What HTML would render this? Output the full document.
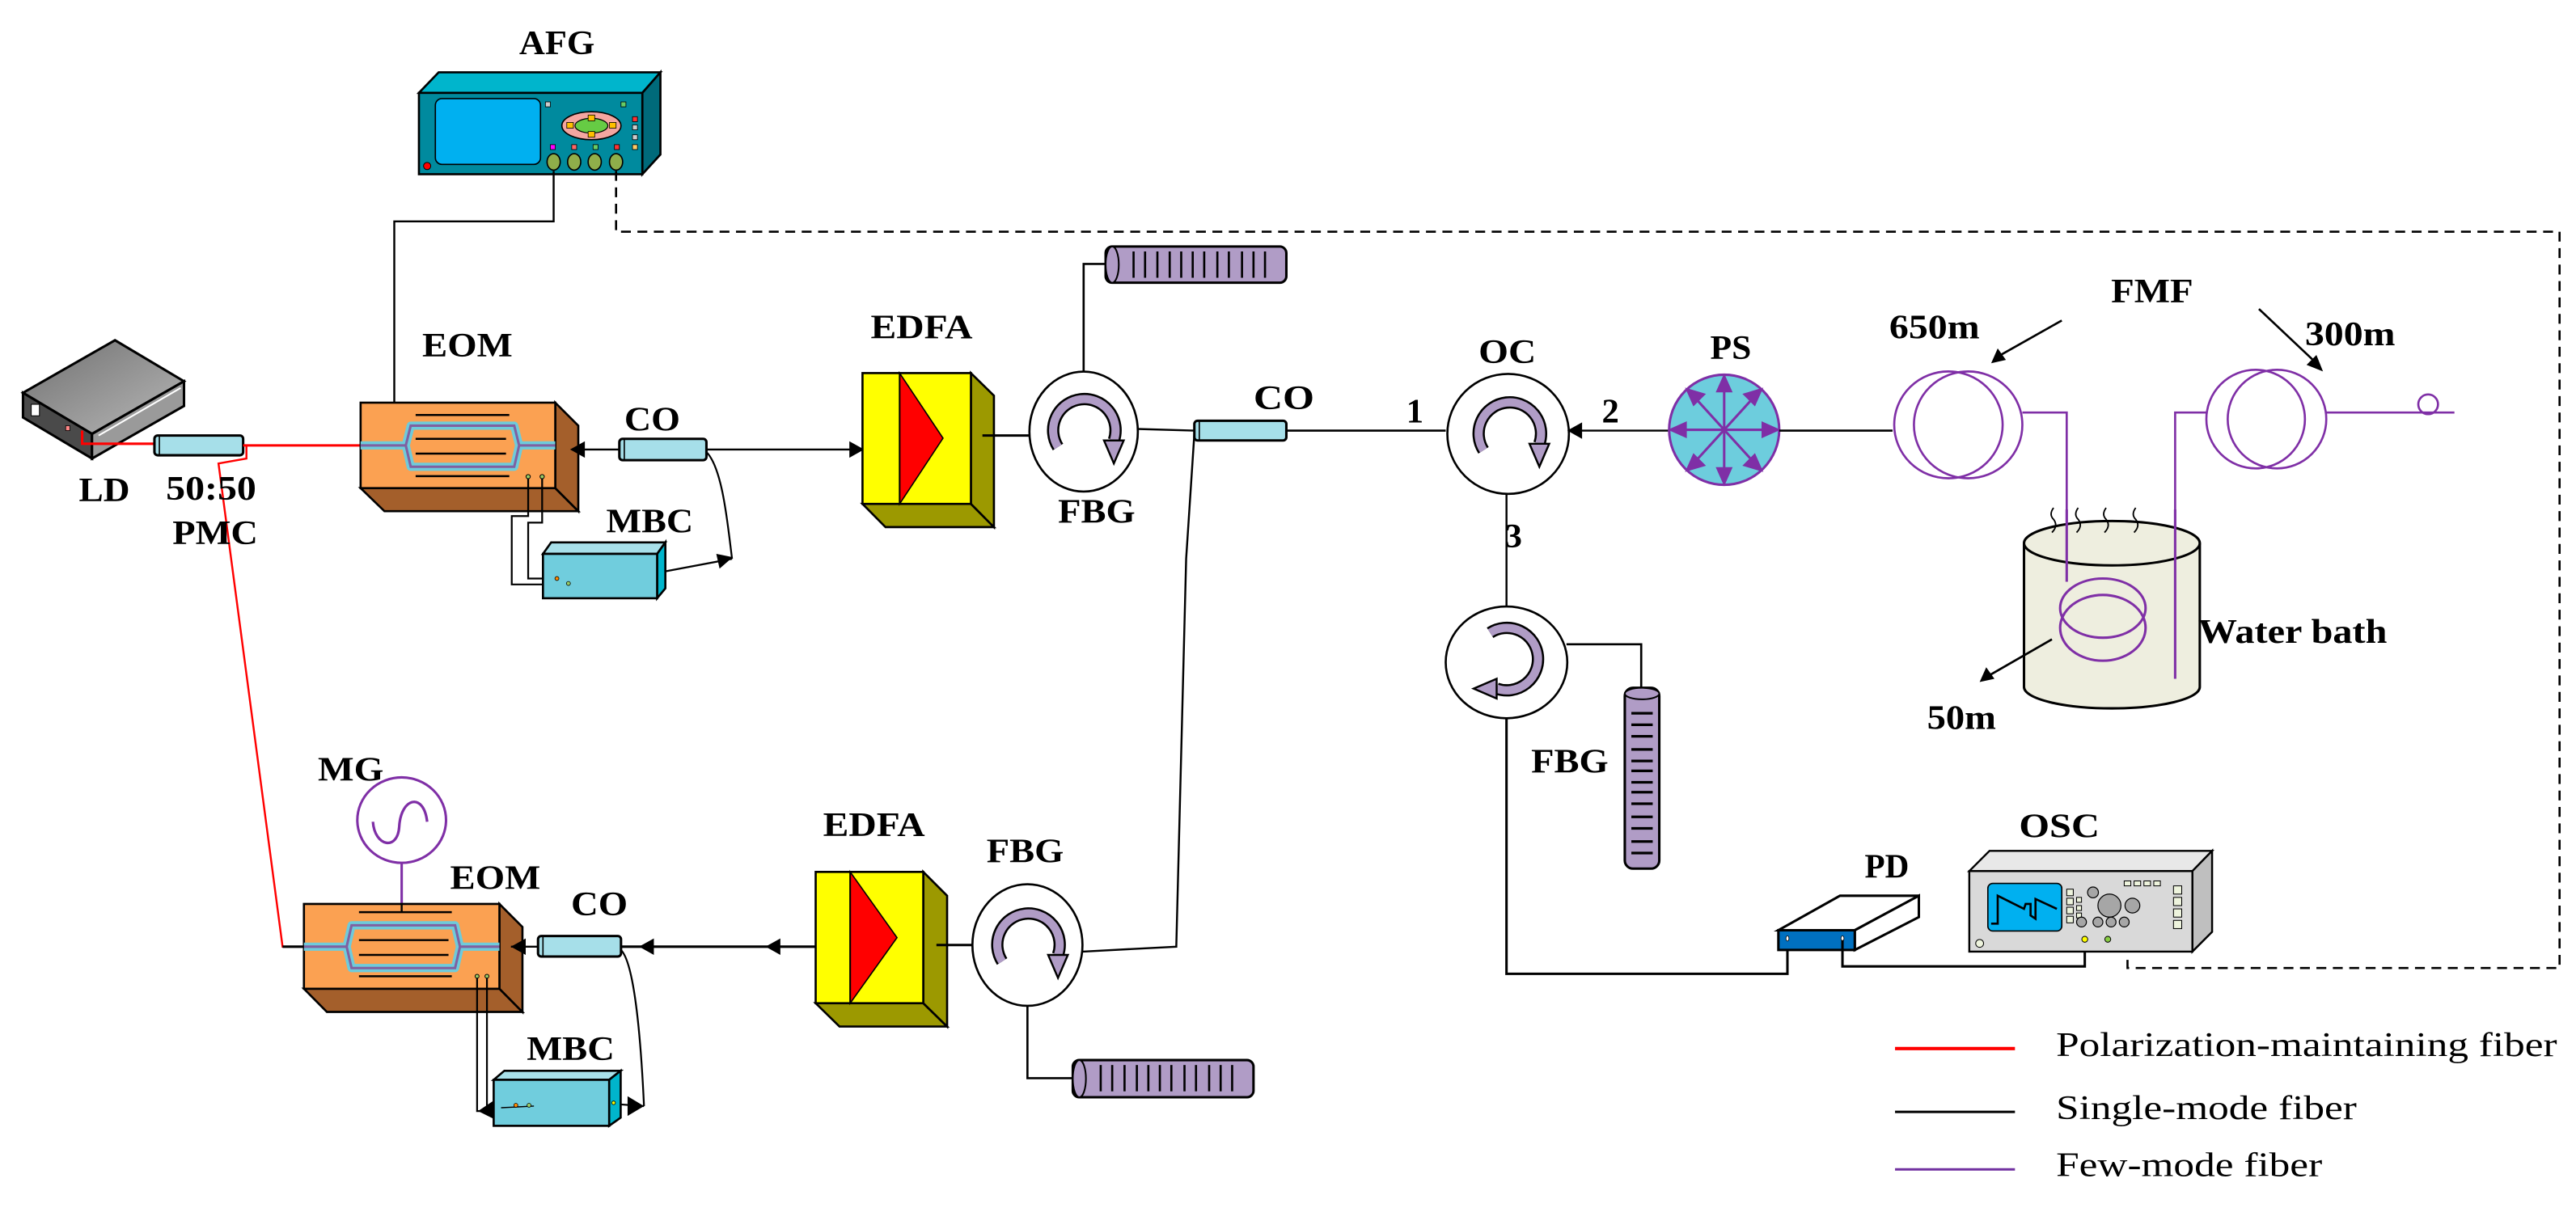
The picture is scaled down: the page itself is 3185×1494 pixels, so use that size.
<!DOCTYPE html>
<html><head><meta charset="utf-8"><style>
html,body{margin:0;padding:0;background:#fff;}
svg{display:block;}
.lb{font-family:"Liberation Serif",serif;font-weight:bold;font-size:21px;fill:#000;}
.lg{font-family:"Liberation Serif",serif;font-size:21px;fill:#000;}
</style></head><body>
<svg width="3185" height="1494" viewBox="0 0 1568 735" preserveAspectRatio="none" xmlns="http://www.w3.org/2000/svg">
<defs>
<linearGradient id="ldg" x1="0" y1="0" x2="1" y2="1"><stop offset="0" stop-color="#707070"/><stop offset="1" stop-color="#b8b8b8"/></linearGradient>
<g id="circarc">
 <path d="M-15,10 A19 19 0 1 1 19,6" fill="none" stroke="#000" stroke-width="7.5"/>
 <path d="M-15,10 A19 19 0 1 1 19,6" fill="none" stroke="#b09cc6" stroke-width="5"/>
 <polygon points="13,6 25,6 19,20" fill="#b09cc6" stroke="#000" stroke-width="1.2"/>
</g>
</defs>

<!-- ========== AFG ========== -->
<text class="lb" x="316" y="33" textLength="46" lengthAdjust="spacingAndGlyphs">AFG</text>
<polygon points="255,56.5 267,44 402,44 391,56.5" fill="#00b5cc" stroke="#000" stroke-width="1.3"/>
<polygon points="391,56.5 402,44 402,94 391,106" fill="#006a7a" stroke="#000" stroke-width="1.3"/>
<rect x="255" y="56.5" width="136" height="49.5" fill="#008a9e" stroke="#000" stroke-width="1.3"/>
<rect x="265" y="60" width="64" height="40" rx="4" fill="#00b0f0" stroke="#000" stroke-width="0.8"/>
<ellipse cx="360" cy="76.5" rx="18" ry="8.5" fill="#f4a6a0" stroke="#000" stroke-width="0.8"/>
<ellipse cx="360" cy="76.5" rx="10" ry="4.5" fill="#66cc44" stroke="#000" stroke-width="0.6"/>
<rect x="358" y="70" width="4" height="3.5" fill="#ffc000" stroke="#000" stroke-width="0.4"/>
<rect x="358" y="80" width="4" height="3.5" fill="#ffc000" stroke="#000" stroke-width="0.4"/>
<rect x="345" y="74.5" width="4" height="3.5" fill="#ffc000" stroke="#000" stroke-width="0.4"/>
<rect x="371" y="74.5" width="4" height="3.5" fill="#ffc000" stroke="#000" stroke-width="0.4"/>
<rect x="332" y="62" width="3" height="3" fill="#ccc" stroke="#000" stroke-width="0.4"/>
<rect x="378" y="62" width="3" height="3" fill="#6c6" stroke="#000" stroke-width="0.4"/>
<rect x="385" y="71" width="3" height="3" fill="#f33" stroke="#000" stroke-width="0.4"/>
<rect x="385" y="76" width="3" height="3" fill="#ccc" stroke="#000" stroke-width="0.4"/>
<rect x="385" y="82" width="3" height="3" fill="#ccc" stroke="#000" stroke-width="0.4"/>
<rect x="335" y="88" width="3" height="3" fill="#f0f" stroke="#000" stroke-width="0.4"/>
<rect x="348" y="88" width="3" height="3" fill="#f66" stroke="#000" stroke-width="0.4"/>
<rect x="361" y="88" width="3" height="3" fill="#6c6" stroke="#000" stroke-width="0.4"/>
<rect x="374" y="88" width="3" height="3" fill="#f33" stroke="#000" stroke-width="0.4"/>
<rect x="385" y="88" width="3" height="3" fill="#fc6" stroke="#000" stroke-width="0.4"/>
<ellipse cx="337" cy="98.5" rx="4" ry="5" fill="#8fae4a" stroke="#000" stroke-width="0.8"/>
<ellipse cx="349.5" cy="98.5" rx="4" ry="5" fill="#8fae4a" stroke="#000" stroke-width="0.8"/>
<ellipse cx="362" cy="98.5" rx="4" ry="5" fill="#8fae4a" stroke="#000" stroke-width="0.8"/>
<ellipse cx="375" cy="98.5" rx="4" ry="5" fill="#8fae4a" stroke="#000" stroke-width="0.8"/>
<circle cx="260" cy="101" r="2.2" fill="#f00" stroke="#000" stroke-width="0.5"/>
<polyline points="337,104 337,134.7 240,134.7 240,245" fill="none" stroke="#000" stroke-width="1.2"/>
<polyline points="375,104 375,141 1558,141 1558,589 1295,589 1295,580" fill="none" stroke="#000" stroke-width="1.3" stroke-dasharray="6 4"/>

<!-- ========== LD / coupler ========== -->
<polygon points="14,239 70,207 112,232 56,264" fill="url(#ldg)" stroke="#000" stroke-width="1.5"/>
<polygon points="14,239 56,264 56,279 14,254" fill="#4a4a4a" stroke="#000" stroke-width="1.5"/>
<polygon points="56,264 112,232 112,247 56,279" fill="#9a9a9a" stroke="#000" stroke-width="1.5"/>
<line x1="60" y1="265" x2="110" y2="236" stroke="#fff" stroke-width="1"/>
<rect x="19" y="246" width="5" height="7" fill="#fff" stroke="#000" stroke-width="0.5"/>
<rect x="40" y="259" width="2.5" height="3" fill="#f88" stroke="#000" stroke-width="0.4"/>
<path d="M50,262 L50,270 L94,270" fill="none" stroke="#f00" stroke-width="1.5"/>
<rect x="94" y="265" width="54" height="12" rx="2" fill="#a6dfe9" stroke="#000" stroke-width="1.5"/>
<line x1="97" y1="265" x2="97" y2="277" stroke="#000" stroke-width="0.8"/>
<line x1="148" y1="271" x2="220" y2="271" stroke="#f00" stroke-width="1.5"/>
<path d="M150,271 L150,279 L133,282 L172,576 L184,576" fill="none" stroke="#f00" stroke-width="1.2"/>
<text class="lb" x="48" y="305" textLength="31" lengthAdjust="spacingAndGlyphs">LD</text>
<text class="lb" x="101" y="304" textLength="55" lengthAdjust="spacingAndGlyphs">50:50</text>
<text class="lb" x="105" y="331" textLength="52" lengthAdjust="spacingAndGlyphs">PMC</text>

<!-- ========== EOM1 ========== -->
<text class="lb" x="257" y="217" textLength="55" lengthAdjust="spacingAndGlyphs">EOM</text>
<polygon points="219.5,297 338,297 352,311 234,311" fill="#a45f2b" stroke="#000" stroke-width="1.3"/>
<polygon points="338,245 352,259 352,311 338,297" fill="#a45f2b" stroke="#000" stroke-width="1.3"/>
<rect x="219.5" y="245" width="118.5" height="52" fill="#fba152" stroke="#000" stroke-width="1.3"/>
<line x1="253" y1="252.5" x2="310" y2="252.5" stroke="#000" stroke-width="1.2"/>
<line x1="253" y1="289.7" x2="310" y2="289.7" stroke="#000" stroke-width="1.2"/>
<path d="M219.5,271 L247,271 L250,259 L313,259 L316,271 L338,271 M247,271 L250,284 L313,284 L316,271" fill="none" stroke="#6ecbdb" stroke-width="5" stroke-linejoin="round"/>
<path d="M219.5,271 L247,271 L250,259 L313,259 L316,271 L338,271 M247,271 L250,284 L313,284 L316,271" fill="none" stroke="#8060a0" stroke-width="1.5"/>
<line x1="253" y1="267" x2="308" y2="267" stroke="#000" stroke-width="1.2"/>
<line x1="253" y1="276" x2="308" y2="276" stroke="#000" stroke-width="1.2"/>
<circle cx="321.5" cy="290" r="1.3" fill="#9c6" stroke="#000" stroke-width="0.5"/>
<circle cx="330" cy="290" r="1.3" fill="#9c6" stroke="#000" stroke-width="0.5"/>
<polyline points="321.5,291 321.5,314 311.5,314 311.5,355.6 346.5,355.6" fill="none" stroke="#000" stroke-width="1.1"/>
<polyline points="330,291 330,318 321.5,318 321.5,352 339,352" fill="none" stroke="#000" stroke-width="1.1"/>
<!-- CO1 -->
<text class="lb" x="380" y="262" textLength="34" lengthAdjust="spacingAndGlyphs">CO</text>
<line x1="348" y1="273.5" x2="377" y2="273.5" stroke="#000" stroke-width="1.2"/>
<polygon points="347,273.5 356,268.5 356,278.5" fill="#000"/>
<rect x="377" y="267" width="53" height="13" rx="2" fill="#a6dfe9" stroke="#000" stroke-width="1.5"/>
<line x1="380" y1="267" x2="380" y2="280" stroke="#000" stroke-width="0.8"/>
<line x1="430" y1="273.5" x2="525" y2="273.5" stroke="#000" stroke-width="1.2"/>
<polygon points="526,273.5 517,268.5 517,278.5" fill="#000"/>
<path d="M430,275 C440,285 443,320 445.6,340" fill="none" stroke="#000" stroke-width="1.1"/>
<line x1="445.6" y1="340" x2="403" y2="348" stroke="#000" stroke-width="1.1"/>
<polygon points="446,339 436,337 438,346" fill="#000"/>
<!-- MBC1 -->
<text class="lb" x="369" y="324" textLength="53" lengthAdjust="spacingAndGlyphs">MBC</text>
<polygon points="330.5,337 335.5,330 405,330 400,337" fill="#a8e0ea" stroke="#000" stroke-width="1.3"/>
<polygon points="400,337 405,330 405,358 400,364" fill="#00b5cc" stroke="#000" stroke-width="1.3"/>
<rect x="330.5" y="337" width="69.5" height="27" fill="#70cddd" stroke="#000" stroke-width="1.3"/>
<circle cx="339" cy="352" r="1.2" fill="#f80" stroke="#000" stroke-width="0.4"/>
<circle cx="346" cy="355" r="1.2" fill="#9c6" stroke="#000" stroke-width="0.4"/>

<!-- ========== EDFA1 ========== -->
<text class="lb" x="530" y="206" textLength="62" lengthAdjust="spacingAndGlyphs">EDFA</text>
<polygon points="525,306.6 591,306.6 605,320.7 539,320.7" fill="#9c9900" stroke="#000" stroke-width="1.3"/>
<polygon points="591,227 605,240.7 605,320.7 591,306.6" fill="#9c9900" stroke="#000" stroke-width="1.3"/>
<rect x="525" y="227" width="66" height="79.6" fill="#ffff00" stroke="#000" stroke-width="1.3"/>
<polygon points="547.6,227 574,266.6 547.6,306.6" fill="#ff0000" stroke="#000" stroke-width="0.8"/>
<line x1="547.6" y1="227" x2="547.6" y2="306.6" stroke="#000" stroke-width="1"/>
<line x1="598" y1="265" x2="627" y2="265" stroke="#000" stroke-width="1.5"/>
<!-- circulator FBG1 -->
<ellipse cx="659.6" cy="262.6" rx="33" ry="36.5" fill="#fff" stroke="#000" stroke-width="1.3"/>
<use href="#circarc" transform="translate(659,262)"/>
<polyline points="659.6,226 659.6,160.6 673,160.6" fill="none" stroke="#000" stroke-width="1.3"/>
<rect x="673" y="150" width="110" height="22" rx="4" fill="#b09cc6" stroke="#000" stroke-width="1.5"/>
<ellipse cx="677" cy="161" rx="4" ry="11" fill="#b09cc6" stroke="#000" stroke-width="1"/>
<g stroke="#000" stroke-width="1.3">
<line x1="690" y1="153" x2="690" y2="169"/><line x1="697" y1="153" x2="697" y2="169"/><line x1="704.5" y1="153" x2="704.5" y2="169"/><line x1="712" y1="153" x2="712" y2="169"/><line x1="719" y1="153" x2="719" y2="169"/><line x1="726" y1="153" x2="726" y2="169"/><line x1="733" y1="153" x2="733" y2="169"/><line x1="741" y1="153" x2="741" y2="169"/><line x1="748" y1="153" x2="748" y2="169"/><line x1="756" y1="153" x2="756" y2="169"/><line x1="763" y1="153" x2="763" y2="169"/><line x1="770" y1="153" x2="770" y2="169"/>
</g>
<text class="lb" x="644" y="318" textLength="47" lengthAdjust="spacingAndGlyphs">FBG</text>
<!-- CO2 -->
<line x1="692" y1="261" x2="727" y2="262" stroke="#000" stroke-width="1.2"/>
<rect x="727" y="256" width="56" height="12" rx="2" fill="#a6dfe9" stroke="#000" stroke-width="1.5"/>
<line x1="730" y1="256" x2="730" y2="268" stroke="#000" stroke-width="0.8"/>
<text class="lb" x="763" y="249" textLength="37" lengthAdjust="spacingAndGlyphs">CO</text>
<line x1="783" y1="262" x2="880" y2="262" stroke="#000" stroke-width="1.3"/>
<polyline points="727,264 722,340 716,576 659,579" fill="none" stroke="#000" stroke-width="1.2"/>
<text class="lb" x="856" y="257" font-size="19">1</text>
<text class="lb" x="975" y="257" font-size="19">2</text>
<text class="lb" x="916" y="333" font-size="19">3</text>

<!-- ========== OC ========== -->
<text class="lb" x="900" y="221" textLength="35" lengthAdjust="spacingAndGlyphs">OC</text>
<ellipse cx="918" cy="264" rx="37" ry="36.5" fill="#fff" stroke="#000" stroke-width="1.3"/>
<use href="#circarc" transform="translate(918,264)"/>
<line x1="955" y1="262" x2="1016" y2="262" stroke="#000" stroke-width="1.2"/>
<polygon points="954,262 963,257 963,267" fill="#000"/>
<line x1="917" y1="300" x2="917" y2="369" stroke="#000" stroke-width="1.2"/>

<!-- ========== PS ========== -->
<text class="lb" x="1041" y="218.5" textLength="25" lengthAdjust="spacingAndGlyphs">PS</text>
<ellipse cx="1049.5" cy="261.5" rx="33.5" ry="33.5" fill="#6dcddd" stroke="#7f2fa6" stroke-width="1.5"/>
<g stroke="#7f2fa6" stroke-width="1.5" fill="#7f2fa6">
<line x1="1049.5" y1="261.5" x2="1049.5" y2="231"/><polygon points="1049.5,229 1045.5,238 1053.5,238"/>
<line x1="1049.5" y1="261.5" x2="1049.5" y2="292"/><polygon points="1049.5,294 1045.5,285 1053.5,285"/>
<line x1="1049.5" y1="261.5" x2="1019" y2="261.5"/><polygon points="1017,261.5 1026,257.5 1026,265.5"/>
<line x1="1049.5" y1="261.5" x2="1080" y2="261.5"/><polygon points="1082,261.5 1073,257.5 1073,265.5"/>
<line x1="1049.5" y1="261.5" x2="1070" y2="239"/><polygon points="1072,237 1062,240 1068,246"/>
<line x1="1049.5" y1="261.5" x2="1029" y2="239"/><polygon points="1027,237 1031,246 1037,240"/>
<line x1="1049.5" y1="261.5" x2="1070" y2="284"/><polygon points="1072,286 1068,277 1062,283"/>
<line x1="1049.5" y1="261.5" x2="1029" y2="284"/><polygon points="1027,286 1037,283 1031,277"/>
</g>
<line x1="1083" y1="262" x2="1152" y2="262" stroke="#000" stroke-width="1.3"/>

<!-- ========== FMF coils ========== -->
<text class="lb" x="1285" y="184" textLength="50" lengthAdjust="spacingAndGlyphs">FMF</text>
<text class="lb" x="1150" y="206" textLength="55" lengthAdjust="spacingAndGlyphs">650m</text>
<text class="lb" x="1403" y="210" textLength="55" lengthAdjust="spacingAndGlyphs">300m</text>
<line x1="1255" y1="195" x2="1216" y2="217" stroke="#000" stroke-width="1.3"/>
<polygon points="1212,221 1216,212 1221,219" fill="#000"/>
<line x1="1375" y1="188" x2="1410" y2="221" stroke="#000" stroke-width="1.3"/>
<polygon points="1414,226 1404,222 1410,216" fill="#000"/>
<g fill="none" stroke="#7f2fa6" stroke-width="1.3">
<ellipse cx="1186" cy="258.5" rx="33" ry="32.5"/>
<ellipse cx="1198" cy="258.5" rx="33" ry="32.5"/>
<ellipse cx="1373" cy="255" rx="30" ry="30"/>
<ellipse cx="1386" cy="255" rx="30" ry="30"/>
<polyline points="1231,251 1258,251 1258,360"/>
<polyline points="1343,251 1324,251 1324,413 1285,413 1285,402"/>
<polyline points="1416,251 1494,251"/>
<ellipse cx="1478" cy="246" rx="6" ry="6"/>
</g>
<!-- water bath -->
<path d="M1232,330.5 L1232,418 A53.5 13 0 0 0 1339,418 L1339,330.5" fill="#eeeedf" stroke="#000" stroke-width="1.5"/>
<ellipse cx="1285.5" cy="330.5" rx="53.5" ry="13.5" fill="#eeeedf" stroke="#000" stroke-width="1.5"/>
<g fill="none" stroke="#7f2fa6" stroke-width="1.5">
<ellipse cx="1280" cy="370" rx="26" ry="18"/>
<ellipse cx="1280" cy="382" rx="26" ry="20"/>
<line x1="1258" y1="310" x2="1258" y2="354"/>
<line x1="1324" y1="310" x2="1324" y2="413"/>
</g>
<g fill="none" stroke="#000" stroke-width="0.9">
<path d="M1250,309 q-3,4 0,7 q3,4 -1,8"/>
<path d="M1265,309 q-3,4 0,7 q3,4 -1,8"/>
<path d="M1282,309 q-3,4 0,7 q3,4 -1,8"/>
<path d="M1300,309 q-3,4 0,7 q3,4 -1,8"/>
</g>
<text class="lb" x="1338" y="391" textLength="115" lengthAdjust="spacingAndGlyphs">Water bath</text>
<line x1="1249" y1="389" x2="1209" y2="412" stroke="#000" stroke-width="1.3"/>
<polygon points="1205,415 1209,406 1214,413" fill="#000"/>
<text class="lb" x="1173" y="443.5" textLength="42" lengthAdjust="spacingAndGlyphs">50m</text>

<!-- ========== lower circulator & FBG ========== -->
<ellipse cx="917" cy="403" rx="37" ry="34" fill="#fff" stroke="#000" stroke-width="1.3"/>
<use href="#circarc" transform="translate(917,400) rotate(90)"/>
<polyline points="953.5,392 999,392 999,418" fill="none" stroke="#000" stroke-width="1.3"/>
<rect x="989" y="418.5" width="21" height="110" rx="5" fill="#b09cc6" stroke="#000" stroke-width="1.5"/>
<ellipse cx="999.5" cy="422" rx="10.5" ry="3.5" fill="#b09cc6" stroke="#000" stroke-width="1"/>
<g stroke="#000" stroke-width="1.6">
<line x1="993" y1="434" x2="1006" y2="434"/><line x1="993" y1="441" x2="1006" y2="441"/><line x1="993" y1="448" x2="1006" y2="448"/><line x1="993" y1="456" x2="1006" y2="456"/><line x1="993" y1="463" x2="1006" y2="463"/><line x1="993" y1="469" x2="1006" y2="469"/><line x1="993" y1="476" x2="1006" y2="476"/><line x1="993" y1="482" x2="1006" y2="482"/><line x1="993" y1="489" x2="1006" y2="489"/><line x1="993" y1="497" x2="1006" y2="497"/><line x1="993" y1="504" x2="1006" y2="504"/><line x1="993" y1="512" x2="1006" y2="512"/><line x1="993" y1="519" x2="1006" y2="519"/>
</g>
<text class="lb" x="932" y="470" textLength="47" lengthAdjust="spacingAndGlyphs">FBG</text>
<polyline points="917,437 917,592.5 1088,592.5 1088,572" fill="none" stroke="#000" stroke-width="1.5"/>

<!-- ========== PD ========== -->
<text class="lb" x="1135" y="534" textLength="27" lengthAdjust="spacingAndGlyphs">PD</text>
<polygon points="1082.5,566 1120,545 1168,545 1129,566" fill="#fff" stroke="#000" stroke-width="1.5"/>
<polygon points="1129,566 1168,545 1168,558 1129,578" fill="#fff" stroke="#000" stroke-width="1.5"/>
<rect x="1082.5" y="566" width="46.5" height="12" fill="#0070c0" stroke="#000" stroke-width="1.5"/>
<ellipse cx="1088" cy="571" rx="0.9" ry="1.6" fill="#fff" stroke="#000" stroke-width="0.4"/>
<ellipse cx="1121.5" cy="571" rx="0.9" ry="1.6" fill="#fff" stroke="#000" stroke-width="0.4"/>
<polyline points="1121.5,572 1121.5,588 1269,588 1269,572" fill="none" stroke="#000" stroke-width="1.5"/>

<!-- ========== OSC ========== -->
<text class="lb" x="1229" y="509.5" textLength="49" lengthAdjust="spacingAndGlyphs">OSC</text>
<polygon points="1198.7,530 1211,517.7 1346.5,517.7 1334.5,530" fill="#e8e8e8" stroke="#000" stroke-width="1.2"/>
<polygon points="1334.5,530 1346.5,517.7 1346.5,567 1334.5,579" fill="#bfbfbf" stroke="#000" stroke-width="1.2"/>
<rect x="1198.7" y="530" width="135.8" height="49" fill="#d9d9d9" stroke="#000" stroke-width="1.2"/>
<rect x="1210" y="537.5" width="45" height="29" rx="3" fill="#00b0f0" stroke="#000" stroke-width="0.8"/>
<polyline points="1212,562 1216,562 1216,545 1232,553 1233,550 1236,550 1236,557 1239,559 1239,547 1252,553" fill="none" stroke="#000" stroke-width="1.3"/>
<g fill="#eef4dd" stroke="#000" stroke-width="0.5">
<rect x="1258" y="541" width="4" height="4"/><rect x="1258" y="546.5" width="4" height="4"/><rect x="1258" y="552" width="4" height="4"/><rect x="1258" y="557.5" width="4" height="4"/>
<rect x="1264" y="546" width="3" height="3"/><rect x="1264" y="551" width="3" height="3"/><rect x="1264" y="555.5" width="3" height="3"/>
<rect x="1293" y="536" width="4" height="3"/><rect x="1299" y="536" width="4" height="3"/><rect x="1305" y="536" width="4" height="3"/><rect x="1311" y="536" width="4" height="3"/>
<rect x="1323" y="539" width="5" height="5"/><rect x="1323" y="546" width="5" height="5"/><rect x="1323" y="553" width="5" height="5"/><rect x="1323" y="560" width="5" height="5"/>
</g>
<g fill="#a6a6a6" stroke="#000" stroke-width="0.6">
<circle cx="1274" cy="543" r="3.3"/><circle cx="1284" cy="551" r="7"/><circle cx="1298" cy="551" r="4.5"/>
<circle cx="1267" cy="561" r="3"/><circle cx="1277" cy="561" r="3"/><circle cx="1285" cy="561" r="3"/><circle cx="1293" cy="561" r="3"/>
</g>
<circle cx="1269" cy="571.5" r="1.8" fill="#ff0" stroke="#000" stroke-width="0.5"/>
<circle cx="1283" cy="571.5" r="1.8" fill="#8c4" stroke="#000" stroke-width="0.5"/>
<circle cx="1205" cy="574" r="2.4" fill="#eef4dd" stroke="#000" stroke-width="0.5"/>

<!-- ========== lower branch ========== -->
<text class="lb" x="193.5" y="475" textLength="40" lengthAdjust="spacingAndGlyphs">MG</text>
<ellipse cx="244.5" cy="499" rx="27" ry="26" fill="none" stroke="#7f2fa6" stroke-width="1.5"/>
<path d="M227,500 C228,515 242,518 243,503 C244,485 258,482 260,500" fill="none" stroke="#7f2fa6" stroke-width="1.6"/>
<line x1="244.5" y1="525" x2="244.5" y2="550" stroke="#7f2fa6" stroke-width="1.5"/>
<text class="lb" x="274" y="541" textLength="55" lengthAdjust="spacingAndGlyphs">EOM</text>
<polygon points="185,601.6 304,601.6 318,615.7 199,615.7" fill="#a45f2b" stroke="#000" stroke-width="1.3"/>
<polygon points="304,550 318,564 318,615.7 304,601.6" fill="#a45f2b" stroke="#000" stroke-width="1.3"/>
<rect x="185" y="550" width="119" height="51.6" fill="#fba152" stroke="#000" stroke-width="1.3"/>
<line x1="218.5" y1="555" x2="275" y2="555" stroke="#000" stroke-width="1.2"/>
<line x1="244.5" y1="550" x2="244.5" y2="555" stroke="#000" stroke-width="1.2"/>
<line x1="218.5" y1="594" x2="275" y2="594" stroke="#000" stroke-width="1.2"/>
<path d="M185,576 L211,576 L214,563 L277,563 L280,576 L304,576 M211,576 L214,589 L277,589 L280,576" fill="none" stroke="#6ecbdb" stroke-width="5" stroke-linejoin="round"/>
<path d="M185,576 L211,576 L214,563 L277,563 L280,576 L304,576 M211,576 L214,589 L277,589 L280,576" fill="none" stroke="#8060a0" stroke-width="1.5"/>
<line x1="218.5" y1="572" x2="273" y2="572" stroke="#000" stroke-width="1.2"/>
<line x1="218.5" y1="581" x2="273" y2="581" stroke="#000" stroke-width="1.2"/>
<line x1="172" y1="576" x2="185" y2="576" stroke="#000" stroke-width="1.5"/>
<circle cx="290.4" cy="594" r="1.2" fill="#9c6" stroke="#000" stroke-width="0.5"/>
<circle cx="296.4" cy="594" r="1.2" fill="#9c6" stroke="#000" stroke-width="0.5"/>
<polyline points="290.4,595 290.4,676 300,676" fill="none" stroke="#000" stroke-width="1.1"/>
<polyline points="296.4,595 296.4,674 316,672" fill="none" stroke="#000" stroke-width="1.1"/>
<polygon points="291,676 303,668 303,682" fill="#000"/>
<!-- CO3 -->
<text class="lb" x="347.6" y="557" textLength="34.5" lengthAdjust="spacingAndGlyphs">CO</text>
<line x1="311" y1="576" x2="327.5" y2="576" stroke="#000" stroke-width="1.2"/>
<polygon points="311,576 320,571 320,581" fill="#000"/>
<rect x="327.5" y="569.5" width="50.5" height="12.5" rx="2" fill="#a6dfe9" stroke="#000" stroke-width="1.5"/>
<line x1="330.5" y1="569.5" x2="330.5" y2="582" stroke="#000" stroke-width="0.8"/>
<line x1="378" y1="576" x2="496" y2="576" stroke="#000" stroke-width="1.5"/>
<polygon points="389,576 398,571 398,581" fill="#000"/>
<polygon points="466,576 475,571 475,581" fill="#000"/>
<path d="M378,578 C386,586 390,630 392,673" fill="none" stroke="#000" stroke-width="1.1"/>
<line x1="378" y1="672" x2="392" y2="673" stroke="#000" stroke-width="1.1"/>
<polygon points="392,673 382,667 382,679" fill="#000"/>
<!-- MBC2 -->
<text class="lb" x="320.6" y="645" textLength="53.5" lengthAdjust="spacingAndGlyphs">MBC</text>
<polygon points="300.5,657 307,651.5 377.8,651.5 370.8,657" fill="#a8e0ea" stroke="#000" stroke-width="1.3"/>
<polygon points="370.8,657 377.8,651.5 377.8,680 370.8,685" fill="#00b5cc" stroke="#000" stroke-width="1.3"/>
<rect x="300.5" y="657" width="70.3" height="28" fill="#70cddd" stroke="#000" stroke-width="1.3"/>
<line x1="305" y1="674" x2="325" y2="673" stroke="#000" stroke-width="0.7"/>
<circle cx="314" cy="672.5" r="1.2" fill="#f80" stroke="#000" stroke-width="0.4"/>
<circle cx="322" cy="672.5" r="1.2" fill="#9c6" stroke="#000" stroke-width="0.4"/>
<circle cx="373.5" cy="671" r="1.1" fill="#ff0" stroke="#000" stroke-width="0.4"/>
<!-- EDFA2 -->
<text class="lb" x="501" y="508.6" textLength="62" lengthAdjust="spacingAndGlyphs">EDFA</text>
<polygon points="496.5,610.4 562,610.4 576.5,624.6 511,624.6" fill="#9c9900" stroke="#000" stroke-width="1.3"/>
<polygon points="562,530.5 576.5,545 576.5,624.6 562,610.4" fill="#9c9900" stroke="#000" stroke-width="1.3"/>
<rect x="496.5" y="530.5" width="65.5" height="79.9" fill="#ffff00" stroke="#000" stroke-width="1.3"/>
<polygon points="517.5,530.5 546,570.5 517.5,610.4" fill="#ff0000" stroke="#000" stroke-width="0.8"/>
<line x1="517.5" y1="530.5" x2="517.5" y2="610.4" stroke="#000" stroke-width="1"/>
<line x1="570" y1="575" x2="592" y2="575" stroke="#000" stroke-width="1.5"/>
<!-- circulator FBG2 -->
<text class="lb" x="600.5" y="524.6" textLength="47" lengthAdjust="spacingAndGlyphs">FBG</text>
<ellipse cx="625.4" cy="575" rx="33.5" ry="37" fill="#fff" stroke="#000" stroke-width="1.3"/>
<use href="#circarc" transform="translate(625,575)"/>
<polyline points="625.4,612 625.4,656 653,656" fill="none" stroke="#000" stroke-width="1.3"/>
<rect x="653" y="645" width="110" height="22.6" rx="4" fill="#b09cc6" stroke="#000" stroke-width="1.5"/>
<ellipse cx="657" cy="656.3" rx="4" ry="11.3" fill="#b09cc6" stroke="#000" stroke-width="1"/>
<g stroke="#000" stroke-width="1.3">
<line x1="670" y1="648" x2="670" y2="664"/><line x1="677" y1="648" x2="677" y2="664"/><line x1="684.5" y1="648" x2="684.5" y2="664"/><line x1="692" y1="648" x2="692" y2="664"/><line x1="699" y1="648" x2="699" y2="664"/><line x1="706" y1="648" x2="706" y2="664"/><line x1="713" y1="648" x2="713" y2="664"/><line x1="721" y1="648" x2="721" y2="664"/><line x1="728" y1="648" x2="728" y2="664"/><line x1="736" y1="648" x2="736" y2="664"/><line x1="743" y1="648" x2="743" y2="664"/><line x1="750" y1="648" x2="750" y2="664"/>
</g>

<!-- ========== Legend ========== -->
<line x1="1153.5" y1="638" x2="1226.5" y2="638" stroke="#f00" stroke-width="2"/>
<line x1="1153.5" y1="676.5" x2="1226.5" y2="676.5" stroke="#000" stroke-width="1.5"/>
<line x1="1153.5" y1="711.5" x2="1226.5" y2="711.5" stroke="#7030a0" stroke-width="1.5"/>
<text class="lg" x="1251.5" y="642.5" textLength="305" lengthAdjust="spacingAndGlyphs">Polarization-maintaining fiber</text>
<text class="lg" x="1251.5" y="681" textLength="183" lengthAdjust="spacingAndGlyphs">Single-mode fiber</text>
<text class="lg" x="1251.5" y="715.5" textLength="162" lengthAdjust="spacingAndGlyphs">Few-mode fiber</text>
</svg>
</body></html>
